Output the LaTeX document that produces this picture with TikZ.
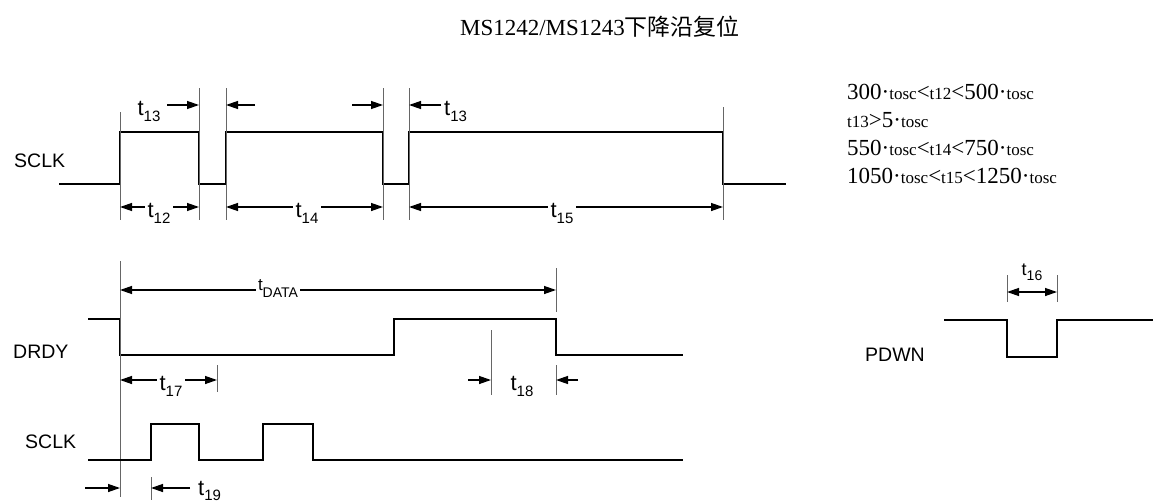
\documentclass[tikz,border=0pt]{standalone}
\usepackage{fontspec}
\setmainfont{Liberation Serif}
\newfontfamily\sansf{Liberation Sans}
\newfontfamily\cjkf{Noto Sans CJK SC}
\usetikzlibrary{arrows.meta}
\newcommand\tsub[1]{t\raisebox{-6pt}{\fontsize{15}{15}\selectfont #1}}
\newcommand\sm[1]{{\fontsize{17}{17}\selectfont #1}}
\begin{document}
\begin{tikzpicture}[x=1pt,y=-1pt,
  sig/.style={line width=2.8pt, line join=miter},
  ext/.style={line width=0.9pt, draw=black!60},
  dim/.style={line width=1.3pt, -{Triangle[length=12pt,width=8pt]}},
  dimb/.style={line width=1.3pt, {Triangle[length=12pt,width=8pt]}-{Triangle[length=12pt,width=8pt]}},
  siglab/.style={font=\sansf\fontsize{19.5}{19.5}\selectfont, anchor=base west, inner sep=0pt},
  tlab/.style={font=\sansf\fontsize{22}{22}\selectfont, inner sep=2.5pt, anchor=base},
  eq/.style={font=\fontsize{23}{23}\selectfont, anchor=base west, inner sep=0pt}]
\useasboundingbox (0,0) rectangle (1153,503);

% title
\node (title) at (600,27) {\fontsize{23}{23}\selectfont MS1242/MS1243{\cjkf 下降沿复位}};

% equations
\node[eq] (e1) at (847,99) {300·\sm{tosc}<\sm{t12}<500·\sm{tosc}};
\node[eq] (e2) at (847,127) {\sm{t13}>5·\sm{tosc}};
\node[eq] (e3) at (847,155) {550·\sm{tosc}<\sm{t14}<750·\sm{tosc}};
\node[eq] (e4) at (847,183) {1050·\sm{tosc}<\sm{t15}<1250·\sm{tosc}};

% signal labels
\node[siglab] (sclk1) at (14,167) {SCLK};
\node[siglab] (drdy) at (13,358) {DRDY};
\node[siglab] (sclk2) at (25,448) {SCLK};
\node[siglab] (pdwn) at (865,361) {PDWN};

% ===== top SCLK =====
\draw[sig] (59,184) -- (120,184) -- (120,132) -- (199,132) -- (199,184) -- (226,184)
  -- (226,132) -- (383,132) -- (383,184) -- (409,184) -- (409,132) -- (723,132)
  -- (723,184) -- (786,184);
\draw[ext] (120,112) -- (120,220);
\draw[ext] (199,88) -- (199,220);
\draw[ext] (226,88) -- (226,220);
\draw[ext] (383,88) -- (383,220);
\draw[ext] (409,88) -- (409,220);
\draw[ext] (723,107) -- (723,220);

% top arrows (t13)
\coordinate (a1s) at (167,105); \coordinate (a1e) at (199,105);
\coordinate (a2s) at (255,105); \coordinate (a2e) at (226,105);
\coordinate (a3s) at (352,105); \coordinate (a3e) at (383,105);
\coordinate (a4s) at (441,105); \coordinate (a4e) at (409,105);
\draw[dim] (a1s) -- (a1e);
\draw[dim] (a2s) -- (a2e);
\draw[dim] (a3s) -- (a3e);
\draw[dim] (a4s) -- (a4e);
\node[tlab] (t13a) at (149,115) {\tsub{13}};
\node[tlab, anchor=base west, inner sep=0pt] (t13b) at (444,115) {\tsub{13}};

% bottom arrows
\coordinate (b120) at (120,207); \coordinate (b199) at (199,207);
\coordinate (b226) at (226,207); \coordinate (b383) at (383,207);
\coordinate (b409) at (409,207); \coordinate (b723) at (723,207);
\node[tlab] (t12) at (159,217) {\tsub{12}};
\node[tlab] (t14) at (307,217) {\tsub{14}};
\node[tlab] (t15) at (562,217) {\tsub{15}};
\draw[dim] (t12.west |- b120) -- (b120);
\draw[dim] (t12.east |- b199) -- (b199);
\draw[dim] (t14.west |- b226) -- (b226);
\draw[dim] (t14.east |- b383) -- (b383);
\draw[dim] (t15.west |- b409) -- (b409);
\draw[dim] (t15.east |- b723) -- (b723);

% ===== DRDY =====
\draw[sig] (88,319) -- (120,319) -- (120,355) -- (394,355) -- (394,319) -- (556,319)
  -- (556,355) -- (683,355);
\draw[ext] (120,261) -- (120,497);
\draw[ext] (556,268) -- (556,312);
\draw[ext] (556,365) -- (556,395);
\draw[ext] (491,330) -- (491,395);
\draw[ext] (217,365) -- (217,392);

% tDATA
\coordinate (d120) at (120,290); \coordinate (d556) at (556,290);
\node[font=\sansf\fontsize{17}{17}\selectfont, inner sep=2pt, anchor=base] (tdata) at (278,290)
  {t\raisebox{-7pt}{\fontsize{14}{14}\selectfont DATA}};
\draw[dim] (tdata.west |- d120) -- (d120);
\draw[dim] (tdata.east |- d556) -- (d556);

% t17
\coordinate (c120) at (120,380); \coordinate (c217) at (217,380);
\node[tlab] (t17) at (171,390) {\tsub{17}};
\draw[dim] (t17.west |- c120) -- (c120);
\draw[dim] (t17.east |- c217) -- (c217);

% t18
\coordinate (e468) at (468,380); \coordinate (e491) at (491,380);
\coordinate (e578) at (578,380); \coordinate (e556) at (556,380);
\draw[dim] (e468) -- (e491);
\draw[dim] (e578) -- (e556);
\node[tlab] (t18) at (522,390) {\tsub{18}};

% ===== bottom SCLK =====
\draw[sig] (88,460) -- (151,460) -- (151,424) -- (199,424) -- (199,460) -- (263,460)
  -- (263,424) -- (313,424) -- (313,460) -- (683,460);
\draw[ext] (151,477) -- (151,500);
\coordinate (f85) at (85,488); \coordinate (f120) at (120,488);
\coordinate (f190) at (190,488); \coordinate (f151) at (151,488);
\draw[dim] (f85) -- (f120);
\draw[dim] (f190) -- (f151);
\node[font=\sansf\fontsize{22}{22}\selectfont, anchor=base west, inner sep=0pt] (t19) at (198,495)
  {t\raisebox{-5pt}{\fontsize{15}{15}\selectfont 19}};

% ===== PDWN =====
\draw[sig] (944,320) -- (1007,320) -- (1007,357) -- (1057,357) -- (1057,320) -- (1153,320);
\draw[ext] (1007,275) -- (1007,302);
\draw[ext] (1057,275) -- (1057,302);
\coordinate (g1) at (1007,292); \coordinate (g2) at (1057,292);
\draw[dimb] (g1) -- (g2);
\node[font=\sansf\fontsize{18}{18}\selectfont, inner sep=0pt, anchor=base] (t16) at (1032,275)
  {t\raisebox{-5pt}{\fontsize{14}{14}\selectfont 16}};
\end{tikzpicture}
\end{document}
